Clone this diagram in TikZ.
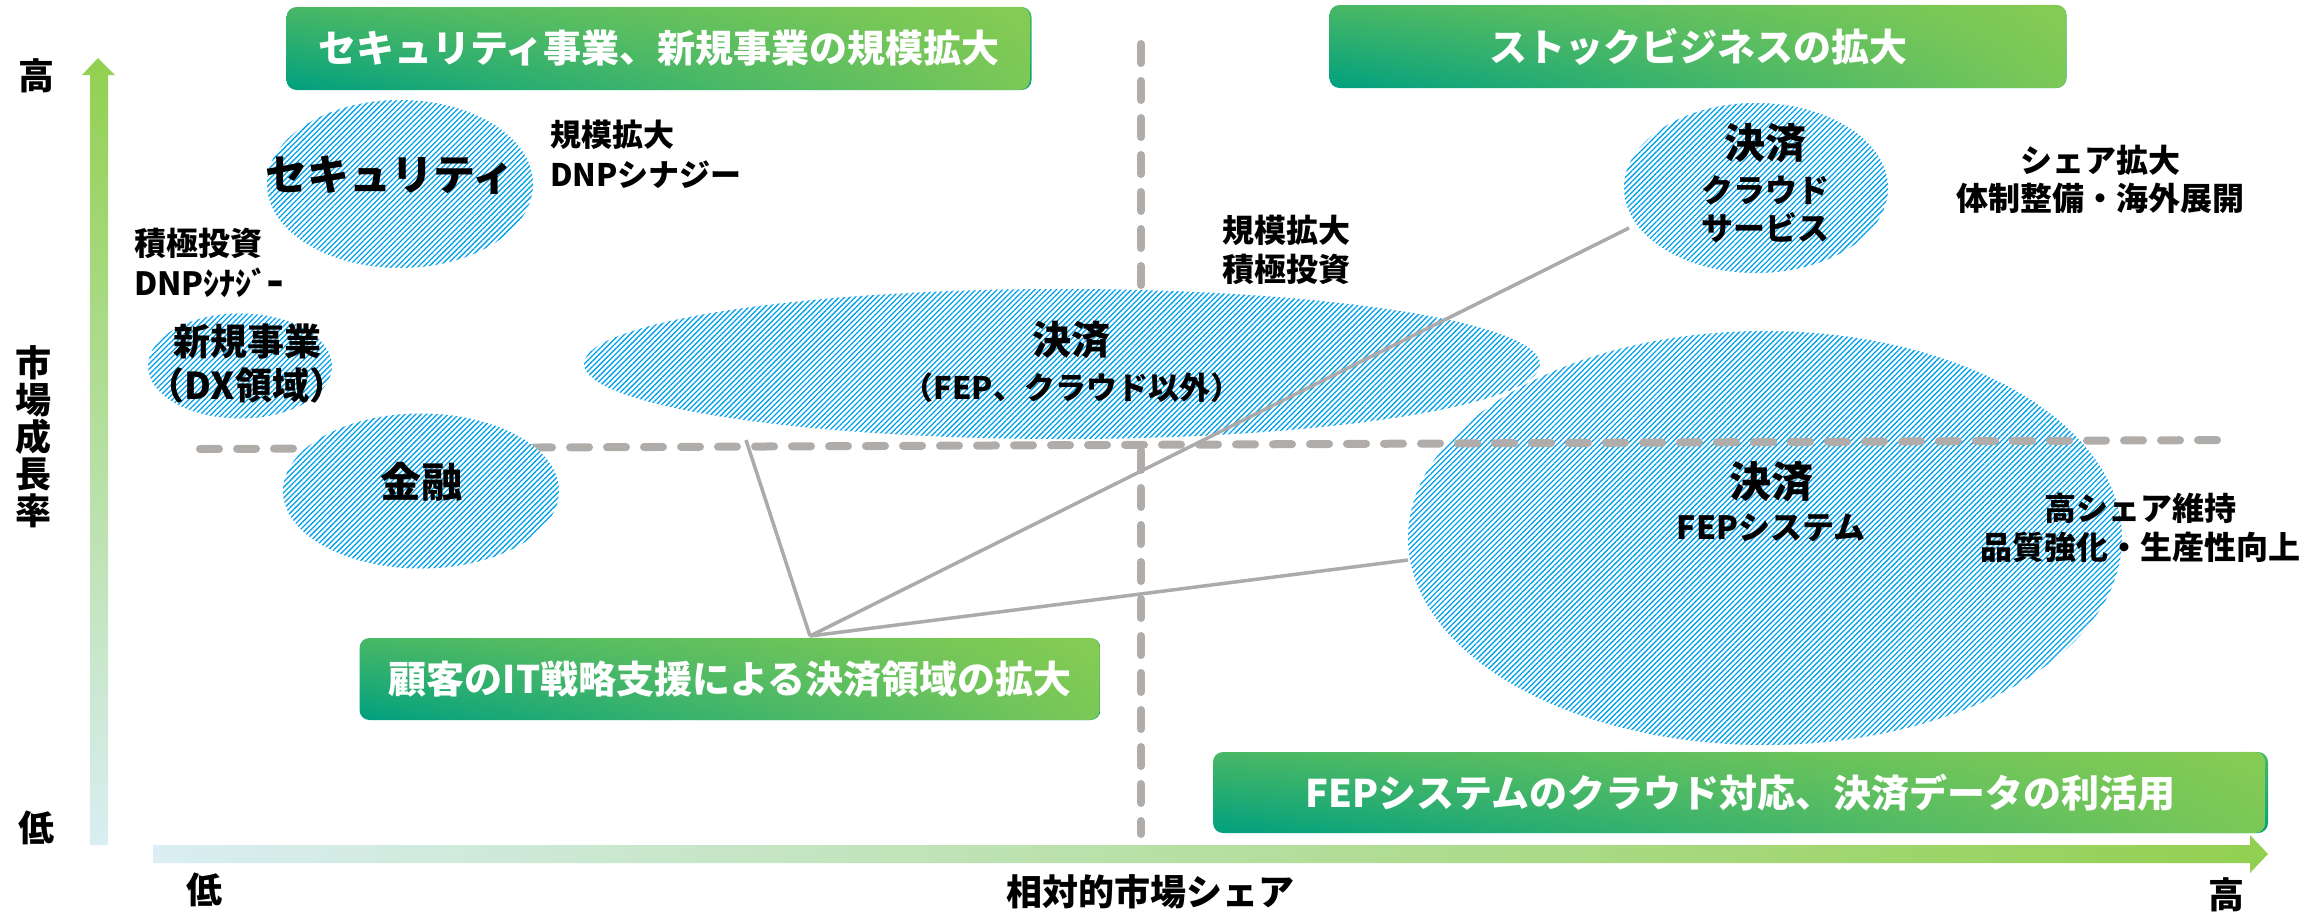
\documentclass[tikz,border=0pt]{standalone}
\usepackage{fontspec}
\setmainfont{Noto Sans CJK JP}
\usetikzlibrary{shapes.geometric,patterns.meta,fadings}
\definecolor{hatch}{RGB}{0,160,233}
\definecolor{dgray}{RGB}{176,172,170}
\definecolor{lgray}{RGB}{172,170,170}
\definecolor{gteal}{RGB}{0,160,128}
\definecolor{gmid}{RGB}{72,184,102}
\definecolor{glime}{RGB}{146,208,80}
\definecolor{lblue}{RGB}{218,238,243}
\newcommand\fsz[2]{\fontsize{#1}{#2}\selectfont\bfseries}
\tikzset{
  hdrbox/.style={rectangle, rounded corners=10pt, inner sep=0pt,
    top color=gmid, bottom color=gteal,
    postaction={fill=glime, fill opacity=0.85, path fading=west},
    text=white, font=\fsz{38}{44}},
  hatchell/.style={ellipse, inner sep=0pt, preaction={fill=white},
    pattern={Lines[angle=45,distance=3.8pt,line width=1.3pt]}, pattern color=hatch},
  dashln/.style={dgray, line width=8pt, line cap=round, dash pattern=on 19pt off 18pt},
  conn/.style={lgray, line width=3.5pt},
  lbl/.style={inner sep=0pt, text=black, align=center},
  hdrtxt/.style={inner sep=0pt, text=white, font=\fsz{38}{44}},
}
\begin{document}
\begin{tikzpicture}[x=1pt,y=-1pt]
\useasboundingbox (0,0) rectangle (2323,916);
% axes
\shade[top color=glime, bottom color=lblue]
  (90,845) -- (90,75) -- (82,75) -- (98,58) -- (115,75) -- (108,75) -- (108,845) -- cycle;
\shade[left color=lblue, right color=glime]
  (153,845) -- (2250,845) -- (2250,835) -- (2268,854) -- (2250,873) -- (2250,863) -- (153,863) -- cycle;
% big FEP ellipse (under dashed lines)
\node[hatchell, minimum width=714pt, minimum height=414pt] (fep) at (1765,538) {};
% quadrant dashed lines
\coordinate (vtop) at (1141,44);
\coordinate (vbot) at (1141,834);
\coordinate (hleft) at (200,449);
\coordinate (hright) at (2233,440);
\draw[dashln] (vtop) -- (vbot);
\draw[dashln] (hleft) -- (hright);
% other ellipses
\node[hatchell, minimum width=266pt, minimum height=168pt] (sec) at (400,184) {};
\node[hatchell, minimum width=184pt, minimum height=105pt] (newbiz) at (240,366) {};
\node[hatchell, minimum width=276pt, minimum height=155pt] (fin) at (421,491) {};
\node[hatchell, minimum width=956pt, minimum height=150pt] (payo) at (1062,364) {};
\node[hatchell, minimum width=264pt, minimum height=170pt] (cloud) at (1756,188) {};
% connectors
\coordinate (conv) at (810,636);
\coordinate (e1) at (746,440);
\coordinate (e2) at (1629,228);
\coordinate (e3) at (1408,560);
\draw[conn] (conv) -- (e1);
\draw[conn] (conv) -- (e2);
\draw[conn] (conv) -- (e3);
% header boxes
\node[hdrbox, minimum width=745pt, minimum height=83pt] (h1) at (659,48.5) {};
\node[hdrtxt] at (h1.center) {セキュリティ事業、新規事業の規模拡大};
\node[hdrbox, minimum width=737pt, minimum height=83pt] (h2) at (1698,46.5) {};
\node[hdrtxt] at (h2.center) {ストックビジネスの拡大};
\node[hdrbox, minimum width=741pt, minimum height=82pt] (h3) at (730,679) {};
\node[hdrtxt] at (h3.center) {顧客のIT戦略支援による決済領域の拡大};
\node[hdrbox, minimum width=1055pt, minimum height=81pt] (h4) at (1740.5,792.5) {};
\node[hdrtxt] at (h4.center) {FEPシステムのクラウド対応、決済データの利活用};
% axis labels
\node[lbl, font=\fsz{36}{40}] (yhi) at (36,76) {高};
\node[lbl, font=\fsz{36}{40}] (ylo) at (37,828) {低};
\node[lbl, font=\fsz{36}{37}] (ylab) at (33,437) {市\\場\\成\\長\\率};
\node[lbl, font=\fsz{36}{40}] (xlo) at (204,890) {低};
\node[lbl, font=\fsz{36}{40}] (xhi) at (2226,895) {高};
\node[lbl, font=\fsz{36}{40}] (xlab) at (1150,892) {相対的市場シェア};
% ellipse texts
\node[lbl, font=\fsz{42}{48}] (tsec) at (390,175) {セキュリティ};
\node[lbl, font=\fsz{37}{44}] (tnew) at (247,364) {新規事業\\（DX領域）};
\node[lbl, font=\fsz{41}{46}] (tfin) at (421,482) {金融};
\node[lbl, font=\fsz{39}{44}] (tpay1) at (1071,340) {決済};
\node[lbl, font=\fsz{31}{36}] (tpay2) at (1072,388) {（FEP、クラウド以外）};
\node[lbl, font=\fsz{41}{46}] (tcl1) at (1765,143) {決済};
\node[lbl, font=\fsz{32}{38}] (tcl2) at (1765,209) {クラウド\\サービス};
\node[lbl, font=\fsz{42}{46}] (tfep1) at (1771,482) {決済};
\node[lbl, font=\fsz{32}{38}] (tfep2) at (1771,528) {FEPシステム};
% side notes
\node[lbl, align=left, anchor=west, font=\fsz{31}{40}] (n1) at (550,154) {規模拡大\\DNPシナジー};
\node[lbl, align=left, anchor=west, font=\fsz{32}{40}] (n2) at (134,263) {積極投資\\DNPｼﾅｼﾞｰ};
\node[lbl, align=left, anchor=west, font=\fsz{32}{39}] (n3) at (1222,250) {規模拡大\\積極投資};
\node[lbl, font=\fsz{32}{38}] (n4) at (2100,179) {シェア拡大\\体制整備・海外展開};
\node[lbl, font=\fsz{32}{39}] (n5) at (2140,528) {高シェア維持\\品質強化・生産性向上};
\end{tikzpicture}
\end{document}
